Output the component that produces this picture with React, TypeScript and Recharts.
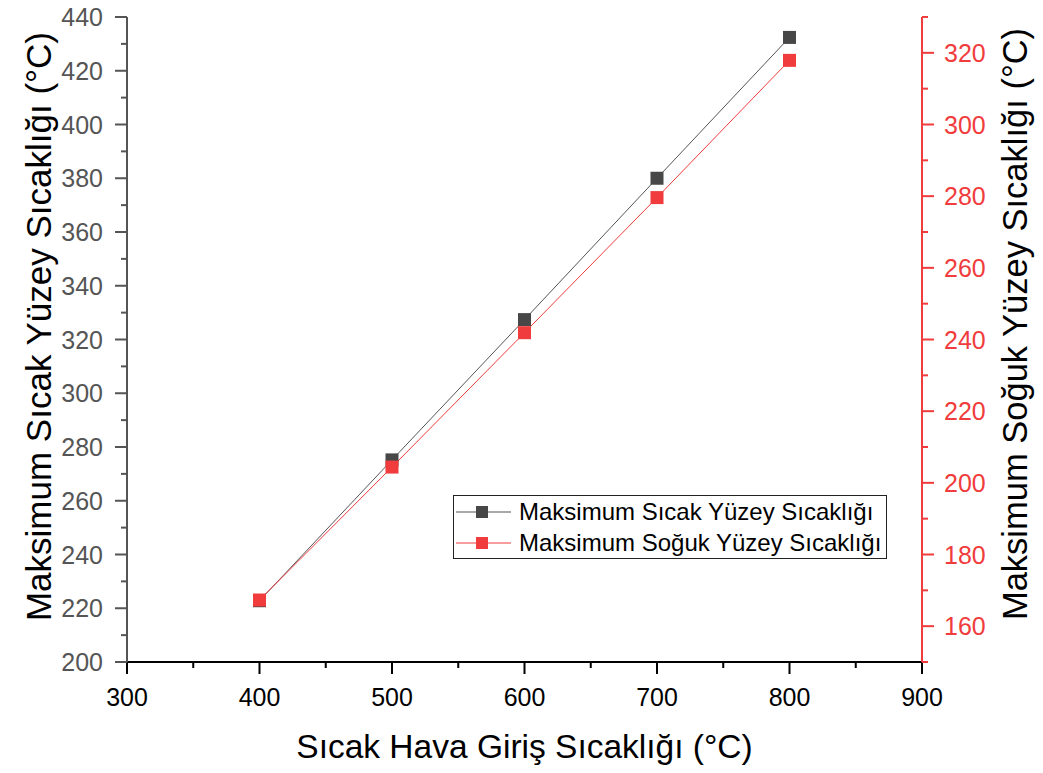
import {
  LineChart,
  Line,
  XAxis,
  YAxis,
  Legend,
  Label,
} from "recharts";

const inletTemps = [400, 500, 600, 700, 800];
const hotSurfaceMax = [222.8, 275.2, 327.4, 380, 432.4];
const coldSurfaceMax = [167.3, 204.4, 241.9, 279.6, 317.9];

const xTicks = [300, 350, 400, 450, 500, 550, 600, 650, 700, 750, 800, 850, 900];
const leftTicks = [200, 210, 220, 230, 240, 250, 260, 270, 280, 290, 300, 310, 320, 330, 340, 350, 360, 370, 380, 390, 400, 410, 420, 430, 440];
const rightTicks = [150, 160, 170, 180, 190, 200, 210, 220, 230, 240, 250, 260, 270, 280, 290, 300, 310, 320, 330];

const HOT_NAME = "Maksimum Sıcak Yüzey Sıcaklığı";
const COLD_NAME = "Maksimum Soğuk Yüzey Sıcaklığı";

const data = inletTemps.map((t, i) => ({
  t,
  hot: hotSurfaceMax[i],
  cold: coldSurfaceMax[i],
}));

const FONT = "'Liberation Sans', Arial, sans-serif";
const GREY = "#555555";
const DARK = "#474747";
const RED = "#f03c3c";
const TICK_SIZE = 25;

function BottomTick({ x, y, payload }: any) {
  const major = payload.value % 100 === 0;
  return (
    <g>
      <line x1={x} x2={x} y1={y} y2={y + (major ? 12 : 6)} stroke="#000" strokeWidth={2} />
      {major && (
        <text x={x} y={y + 44} textAnchor="middle" fontSize={TICK_SIZE} fontFamily={FONT} fill="#000">
          {payload.value}
        </text>
      )}
    </g>
  );
}

function TopTick({ x, y, payload }: any) {
  const major = payload.value % 100 === 0;
  return <line x1={x} x2={x} y1={y} y2={y + (major ? 12 : 6)} stroke="#000" strokeWidth={2} />;
}

function LeftTick({ x, y, payload }: any) {
  const major = payload.value % 20 === 0;
  return (
    <g>
      <line x1={x} x2={x - (major ? 12 : 6)} y1={y} y2={y} stroke={GREY} strokeWidth={2} />
      {major && (
        <text x={x - 24} y={y} dy="0.36em" textAnchor="end" fontSize={TICK_SIZE} fontFamily={FONT} fill={GREY}>
          {payload.value}
        </text>
      )}
    </g>
  );
}

function RightTick({ x, y, payload }: any) {
  const major = payload.value % 20 === 0;
  return (
    <g>
      <line x1={x} x2={x + (major ? 12 : 6)} y1={y} y2={y} stroke={RED} strokeWidth={2} />
      {major && (
        <text x={x + 22} y={y} dy="0.36em" textAnchor="start" fontSize={TICK_SIZE} fontFamily={FONT} fill={RED}>
          {payload.value}
        </text>
      )}
    </g>
  );
}

function squareDot(color: string) {
  return (p: any) => (
    <rect
      key={`${color}-${p.index}`}
      x={p.cx - 6.5}
      y={p.cy - 6.5}
      width={13}
      height={13}
      fill={color}
    />
  );
}

function LegendBox() {
  const rows = [
    { name: HOT_NAME, line: GREY, mark: DARK },
    { name: COLD_NAME, line: RED, mark: RED },
  ];
  return (
    <div
      style={{
        width: 432,
        height: 62,
        border: "1.5px solid #222",
        background: "#fff",
        fontFamily: FONT,
        fontSize: 24,
        color: "#000",
        boxSizing: "content-box",
        overflow: "hidden",
      }}
    >
      {rows.map((r) => (
        <div key={r.name} style={{ display: "flex", alignItems: "center", height: 30, marginTop: 1 }}>
          <svg width={62} height={20} style={{ flex: "none" }}>
            <line x1={2} x2={57} y1={10} y2={10} stroke={r.line} strokeWidth={1.2} />
            <rect x={22} y={4} width={12} height={12} fill={r.mark} />
          </svg>
          <span style={{ marginLeft: 3, whiteSpace: "nowrap" }}>{r.name}</span>
        </div>
      ))}
    </div>
  );
}

export default function App() {
  return (
    <>
      <style>{".recharts-surface{overflow:visible}"}</style>
      <LineChart
        width={1030}
        height={760}
        data={data}
        margin={{ top: 9, right: 0, bottom: 0, left: 0 }}
      >
        <XAxis
          xAxisId="bottom"
          dataKey="t"
          type="number"
          domain={[300, 900]}
          ticks={xTicks}
          interval={0}
          height={106}
          tickSize={0}
          tickMargin={0}
          tickLine={false}
          tick={<BottomTick />}
          axisLine={{ stroke: "#000", strokeWidth: 2 }}
        >
          <Label
            content={({ viewBox }: any) => (
              <text
                x={viewBox.x + viewBox.width / 2}
                y={viewBox.y + 96}
                textAnchor="middle"
                fontSize={33.5}
                fontFamily={FONT}
                fill="#000"
              >
                Sıcak Hava Giriş Sıcaklığı (°C)
              </text>
            )}
          />
        </XAxis>
        <XAxis
          xAxisId="top"
          dataKey="t"
          orientation="top"
          type="number"
          domain={[300, 900]}
          ticks={xTicks}
          interval={0}
          height={0}
          tickSize={0}
          tickMargin={0}
          tickLine={false}
          tick={<TopTick />}
          axisLine={{ stroke: "#000", strokeWidth: 2 }}
        />
        <YAxis
          yAxisId="left"
          type="number"
          domain={[200, 440]}
          ticks={leftTicks}
          interval={0}
          width={119}
          tickSize={0}
          tickMargin={0}
          tickLine={false}
          tick={<LeftTick />}
          axisLine={{ stroke: GREY, strokeWidth: 2 }}
        >
          <Label
            content={({ viewBox }: any) => {
              const cx = viewBox.x + 30;
              const cy = viewBox.y + viewBox.height / 2 - 13;
              return (
                <text
                  x={cx}
                  y={cy}
                  transform={`rotate(-90 ${cx} ${cy})`}
                  textAnchor="middle"
                  dominantBaseline="central"
                  fontSize={35}
                  fontFamily={FONT}
                  fill="#000"
                >
                  Maksimum Sıcak Yüzey Sıcaklığı (°C)
                </text>
              );
            }}
          />
        </YAxis>
        <YAxis
          yAxisId="right"
          orientation="right"
          type="number"
          domain={[150, 330]}
          ticks={rightTicks}
          interval={0}
          width={116}
          tickSize={0}
          tickMargin={0}
          tickLine={false}
          tick={<RightTick />}
          axisLine={{ stroke: RED, strokeWidth: 2 }}
        >
          <Label
            content={({ viewBox }: any) => {
              const cx = viewBox.x + 93;
              const cy = viewBox.y + 307;
              return (
                <text
                  x={cx}
                  y={cy}
                  transform={`rotate(-90 ${cx} ${cy})`}
                  textAnchor="middle"
                  dominantBaseline="central"
                  fontSize={34.5}
                  fontFamily={FONT}
                  fill="#000"
                >
                  Maksimum Soğuk Yüzey Sıcaklığı (°C)
                </text>
              );
            }}
          />
        </YAxis>
        <Legend
          layout="vertical"
          align="center"
          verticalAlign="middle"
          content={<LegendBox />}
          wrapperStyle={{ left: 445, top: 487, width: 436, height: 66 }}
        />
        <Line
          xAxisId="bottom"
          yAxisId="left"
          dataKey="hot"
          name={HOT_NAME}
          stroke={GREY}
          strokeWidth={1}
          dot={squareDot(DARK)}
          activeDot={false}
          isAnimationActive={false}
        />
        <Line
          xAxisId="bottom"
          yAxisId="right"
          dataKey="cold"
          name={COLD_NAME}
          stroke={RED}
          strokeWidth={1}
          dot={squareDot(RED)}
          activeDot={false}
          isAnimationActive={false}
        />
      </LineChart>
    </>
  );
}
